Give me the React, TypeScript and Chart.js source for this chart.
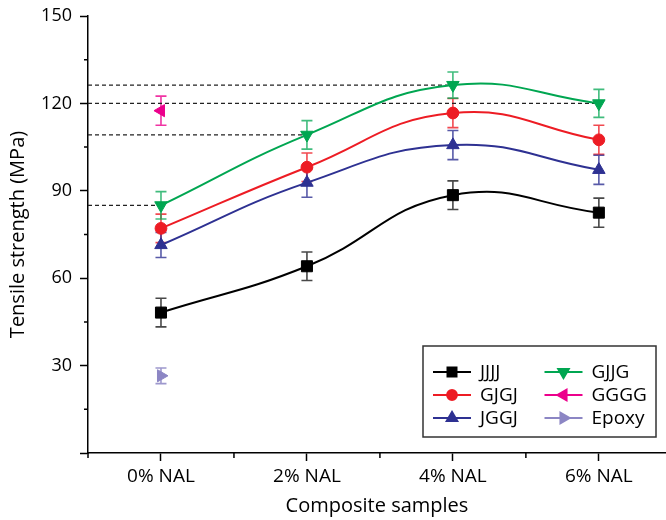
import React, { useEffect, useRef } from 'react';
import { Chart, registerables } from 'chart.js';
import { drawPoint } from 'chart.js/helpers';

Chart.register(...registerables);

// ---- data ----
const categories = ['0% NAL', '2% NAL', '4% NAL', '6% NAL'];
const yMajorTicks = [0, 30, 60, 90, 120, 150];
const yMinorTicks = [15, 45, 75, 105, 135];
const xMinorTicks = [-0.5, 0.5, 1.5, 2.5];

const JJJJ = [48.2, 64.1, 88.5, 82.5];
const JJJJ_err = [4.9, 4.9, 4.9, 5.0];
const GJGJ = [77.1, 98.1, 116.7, 107.5];
const GJGJ_err = [4.9, 4.9, 5.0, 5.0];
const JGGJ = [71.4, 92.8, 105.7, 97.2];
const JGGJ_err = [4.3, 5.0, 5.0, 5.0];
const GJJG = [85.0, 109.2, 126.3, 120.0];
const GJJG_err = [4.7, 4.9, 4.5, 4.8];
const GGGG = [117.5];
const GGGG_err = [5.0];
const Epoxy = [26.5];
const Epoxy_err = [2.7];

const X_MIN = -0.5;
const X_MAX = 3.46;

type SeriesDef = {
  label: string;
  values: number[];
  errors: number[];
  color: string;
  errColor: string;
  pointStyle: string;
  rotation: number;
  radius: number;
  legendRadius: number;
  line: boolean;
};

const series: SeriesDef[] = [
  { label: 'JJJJ', values: JJJJ, errors: JJJJ_err, color: '#000000', errColor: 'rgba(40,40,40,0.85)', pointStyle: 'rect', rotation: 0, radius: 7.8, legendRadius: 6.5, line: true },
  { label: 'GJGJ', values: GJGJ, errors: GJGJ_err, color: '#ED1C24', errColor: 'rgba(237,28,36,0.8)', pointStyle: 'circle', rotation: 0, radius: 5.9, legendRadius: 5, line: true },
  { label: 'JGGJ', values: JGGJ, errors: JGGJ_err, color: '#2E3192', errColor: 'rgba(46,49,146,0.8)', pointStyle: 'triangle', rotation: 0, radius: 7.2, legendRadius: 6.3, line: true },
  { label: 'GJJG', values: GJJG, errors: GJJG_err, color: '#00A651', errColor: 'rgba(0,166,81,0.75)', pointStyle: 'triangle', rotation: 180, radius: 7.2, legendRadius: 6.3, line: true },
  { label: 'GGGG', values: GGGG, errors: GGGG_err, color: '#EC008C', errColor: 'rgba(236,0,140,0.8)', pointStyle: 'triangle', rotation: 270, radius: 7, legendRadius: 6.3, line: false },
  { label: 'Epoxy', values: Epoxy, errors: Epoxy_err, color: '#8C86C4', errColor: 'rgba(140,134,196,0.85)', pointStyle: 'triangle', rotation: 90, radius: 7, legendRadius: 6.3, line: false },
];

const errorBarPlugin = {
  id: 'errorBars',
  beforeDatasetsDraw(chart: any) {
    const ctx = chart.ctx;
    const xs = chart.scales.x;
    const ys = chart.scales.y;
    chart.data.datasets.forEach((ds: any) => {
      if (!ds.errors) return;
      ctx.save();
      ctx.strokeStyle = ds.errColor;
      ctx.lineWidth = 1.6;
      ds.data.forEach((p: any, i: number) => {
        const e = ds.errors[i];
        const x = xs.getPixelForValue(p.x);
        const yt = ys.getPixelForValue(p.y + e);
        const yb = ys.getPixelForValue(p.y - e);
        ctx.beginPath();
        ctx.moveTo(x, yt);
        ctx.lineTo(x, yb);
        ctx.moveTo(x - 5.5, yt);
        ctx.lineTo(x + 5.5, yt);
        ctx.moveTo(x - 5.5, yb);
        ctx.lineTo(x + 5.5, yb);
        ctx.stroke();
      });
      ctx.restore();
    });
  },
};

const minorTickPlugin = {
  id: 'minorTicks',
  afterDraw(chart: any) {
    const ctx = chart.ctx;
    const xs = chart.scales.x;
    const ys = chart.scales.y;
    const area = chart.chartArea;
    ctx.save();
    ctx.strokeStyle = '#000';
    ctx.lineWidth = 1.5;
    ctx.beginPath();
    yMinorTicks.forEach((v) => {
      const y = ys.getPixelForValue(v);
      ctx.moveTo(area.left - 4, y);
      ctx.lineTo(area.left, y);
    });
    xMinorTicks.forEach((v) => {
      const x = xs.getPixelForValue(v);
      ctx.moveTo(x, area.bottom);
      ctx.lineTo(x, area.bottom + 5);
    });
    ctx.stroke();
    ctx.restore();
  },
};

const legendPlugin = {
  id: 'boxLegend',
  afterDraw(chart: any) {
    const ctx = chart.ctx;
    const area = chart.chartArea;
    const boxW = 233;
    const boxH = 91;
    const right = chart.width - 10;
    const bottom = area.bottom - 16;
    const left = right - boxW;
    const top = bottom - boxH;
    ctx.save();
    ctx.fillStyle = '#fff';
    ctx.fillRect(left, top, boxW, boxH);
    ctx.strokeStyle = '#333';
    ctx.lineWidth = 1.5;
    ctx.strokeRect(left, top, boxW, boxH);
    const items = chart.data.datasets.filter((d: any) => d.legendItem);
    items.forEach((d: any, k: number) => {
      const col = Math.floor(k / 3);
      const row = k % 3;
      const x0 = left + 10 + col * 111.5;
      const y = top + 26 + row * 23;
      ctx.strokeStyle = d.borderColor;
      ctx.lineWidth = 1.8;
      ctx.beginPath();
      ctx.moveTo(x0, y);
      ctx.lineTo(x0 + 38, y);
      ctx.stroke();
      ctx.fillStyle = d.backgroundColor;
      ctx.strokeStyle = d.borderColor;
      drawPoint(ctx, { pointStyle: d.pointStyle, rotation: d.rotation, radius: d.legendRadius, borderWidth: 1 }, x0 + 19, y);
      ctx.fillStyle = '#000';
      ctx.font = '19px "Open Sans"';
      ctx.textBaseline = 'middle';
      ctx.textAlign = 'left';
      ctx.fillText(d.label, x0 + 47, y + 1);
    });
    ctx.restore();
  },
};

export default function App() {
  const canvasRef = useRef<HTMLCanvasElement | null>(null);

  useEffect(() => {
    if (!canvasRef.current) return;
    Chart.defaults.font.family = '"Open Sans", sans-serif';
    Chart.defaults.color = '#000';

    const refLines = GJJG.map((v, i) => ({
      type: 'line',
      label: 'ref' + i,
      data: [
        { x: X_MIN, y: v },
        { x: i, y: v },
      ],
      borderColor: '#222',
      borderWidth: 1.3,
      borderDash: [4, 3],
      pointRadius: 0,
      tension: 0,
      order: 10,
      clip: false,
    }));

    const dataSets = series.map((s) => ({
      type: 'line',
      label: s.label,
      data: s.values.map((y, i) => ({ x: i, y })),
      errors: s.errors,
      errColor: s.errColor,
      legendItem: true,
      legendRadius: s.legendRadius,
      borderColor: s.color,
      backgroundColor: s.color,
      pointBackgroundColor: s.color,
      pointBorderColor: s.color,
      pointStyle: s.pointStyle,
      rotation: s.rotation,
      pointRotation: s.rotation,
      pointRadius: s.radius,
      pointBorderWidth: 1,
      borderWidth: 2,
      showLine: s.line,
      tension: 0.45,
      order: 1,
      clip: false,
    }));

    const chart = new Chart(canvasRef.current, {
      type: 'line',
      data: { datasets: [...refLines, ...dataSets] as any },
      options: {
        animation: false,
        responsive: false,
        devicePixelRatio: 1,
        layout: { autoPadding: false, padding: { top: 16, right: 0, left: 0, bottom: 0 } },
        plugins: { legend: { display: false }, tooltip: { enabled: false } },
        scales: {
          x: {
            type: 'linear',
            min: X_MIN,
            max: X_MAX,
            afterBuildTicks: (axis: any) => {
              axis.ticks = categories.map((_, i) => ({ value: i }));
            },
            afterFit: (axis: any) => {
              axis.height = 67;
              axis.paddingLeft = 0;
              axis.paddingRight = 0;
            },
            ticks: {
              autoSkip: false,
              maxRotation: 0,
              padding: 4,
              font: { size: 19 },
              color: '#000',
              callback: (v: any) => categories[Math.round(Number(v))] ?? '',
            },
            grid: { drawOnChartArea: false, tickLength: 8, tickColor: '#000', tickWidth: 1.5 },
            border: { display: true, color: '#000', width: 1.5 },
            title: { display: true, text: 'Composite samples', font: { size: 20 }, color: '#000', padding: { top: 0, bottom: 2 } },
          },
          y: {
            type: 'linear',
            min: 0,
            max: 150,
            afterBuildTicks: (axis: any) => {
              axis.ticks = yMajorTicks.map((v) => ({ value: v }));
            },
            afterFit: (axis: any) => {
              axis.width = 88;
              axis.paddingTop = 0;
              axis.paddingBottom = 0;
            },
            ticks: {
              padding: 8,
              font: { size: 18 },
              color: '#000',
              callback: (v: any) => (Number(v) === 0 ? '' : String(v)),
            },
            grid: { drawOnChartArea: false, tickLength: 8, tickColor: '#000', tickWidth: 1.5 },
            border: { display: true, color: '#000', width: 1.5 },
            title: { display: true, text: 'Tensile strength (MPa)', font: { size: 20 }, color: '#000', padding: { top: 6, bottom: 0 } },
          },
        },
      },
      plugins: [errorBarPlugin, minorTickPlugin, legendPlugin],
    } as any);

    return () => chart.destroy();
  }, []);

  return (
    <div style={{ position: 'absolute', left: 0, top: 0, width: 666, height: 520, background: '#fff' }}>
      <canvas ref={canvasRef} width={666} height={520} style={{ display: 'block' }} />
    </div>
  );
}
